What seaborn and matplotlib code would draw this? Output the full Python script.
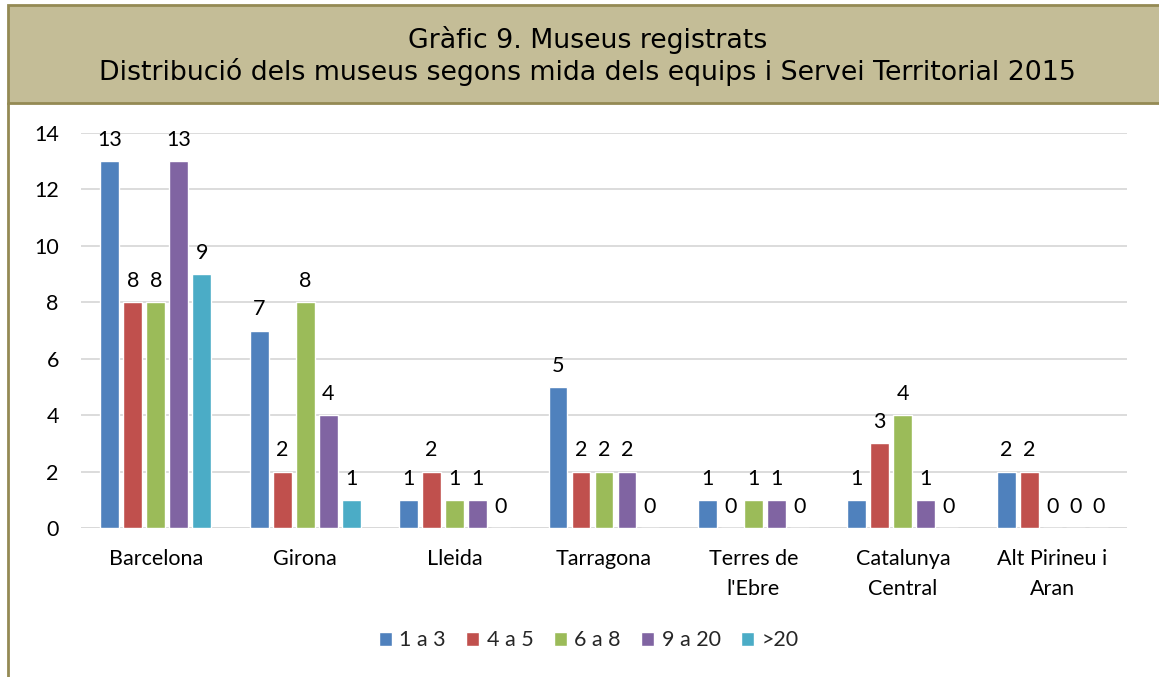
import seaborn as sns
import matplotlib.pyplot as plt
import pandas as pd
from matplotlib.patches import Rectangle, Patch
from matplotlib.lines import Line2D

# data
serveis = ["Barcelona", "Girona", "Lleida", "Tarragona",
           "Terres de\nl'Ebre", "Catalunya\nCentral", "Alt Pirineu i\nAran"]
mides = ["1 a 3", "4 a 5", "6 a 8", "9 a 20", ">20"]
v_1a3 = [13, 7, 1, 5, 1, 1, 2]
v_4a5 = [8, 2, 2, 2, 0, 3, 2]
v_6a8 = [8, 8, 1, 2, 1, 4, 0]
v_9a20 = [13, 4, 1, 2, 1, 1, 0]
v_mes20 = [9, 1, 0, 0, 0, 0, 0]
colors = ["#4F81BD", "#C0504D", "#9BBB59", "#8064A2", "#4BACC6"]

rows = []
for mida, vals in zip(mides, [v_1a3, v_4a5, v_6a8, v_9a20, v_mes20]):
    for s, v in zip(serveis, vals):
        rows.append({"servei": s, "mida": mida, "museus": v})
df = pd.DataFrame(rows)

sns.set_theme(style="white")
plt.rcParams["font.family"] = ["Lato", "DejaVu Sans"]

fig = plt.figure(figsize=(11.59, 6.77), dpi=100)
ax = fig.add_axes([0.0699, 0.2201, 0.9025, 0.5834])

sns.barplot(data=df, x="servei", y="museus", hue="mida", order=serveis,
            hue_order=mides, palette=colors, width=0.77, gap=0.18,
            saturation=1, ax=ax, legend=False)

for c in ax.containers:
    ax.bar_label(c, fmt="%g", padding=8, fontsize=15.5, color="black")

ax.set_ylim(0, 14)
ax.set_xlim(-0.5, 6.5)
ax.set_yticks(range(0, 15, 2))
ax.yaxis.grid(True, color="#D9D9D9", lw=1.3)
ax.set_axisbelow(True)
for sp in ax.spines.values():
    sp.set_visible(False)
ax.axhline(0, color="#D9D9D9", lw=1.3, zorder=0)
ax.set_xlabel("")
ax.set_ylabel("")
ax.tick_params(axis="y", length=0, pad=16, labelsize=15.5, labelcolor="black")
ax.tick_params(axis="x", length=0, pad=15, labelsize=15.5, labelcolor="black")
for t in ax.get_xticklabels():
    t.set_linespacing(1.65)

handles = [Patch(facecolor=c, label=m) for c, m in zip(colors, mides)]
fig.legend(handles=handles, loc="center", bbox_to_anchor=(0.508, 0.054),
           ncol=5, frameon=False, fontsize=15.5, handlelength=0.6,
           handleheight=0.6, handletextpad=0.35, columnspacing=0.95)

# title box and outer frame
fig.patches.append(Rectangle((8 / 1159, 1 - 103 / 677), 1.0, 98 / 677,
                             transform=fig.transFigure, facecolor="#C4BD97",
                             edgecolor="#948A54", lw=2, zorder=0))
fig.lines.append(Line2D([8 / 1159, 8 / 1159], [0, 1 - 103 / 677],
                        transform=fig.transFigure, color="#948A54", lw=2))
fig.text(0.507, 1 - 40 / 677, "Gràfic 9. Museus registrats", ha="center",
         va="center", fontsize=19.3, family="DejaVu Sans", color="black")
fig.text(0.507, 1 - 72 / 677,
         "Distribució dels museus segons mida dels equips i Servei Territorial 2015",
         ha="center", va="center", fontsize=19.3, family="DejaVu Sans",
         color="black")

fig.savefig("out.png", dpi=100)
